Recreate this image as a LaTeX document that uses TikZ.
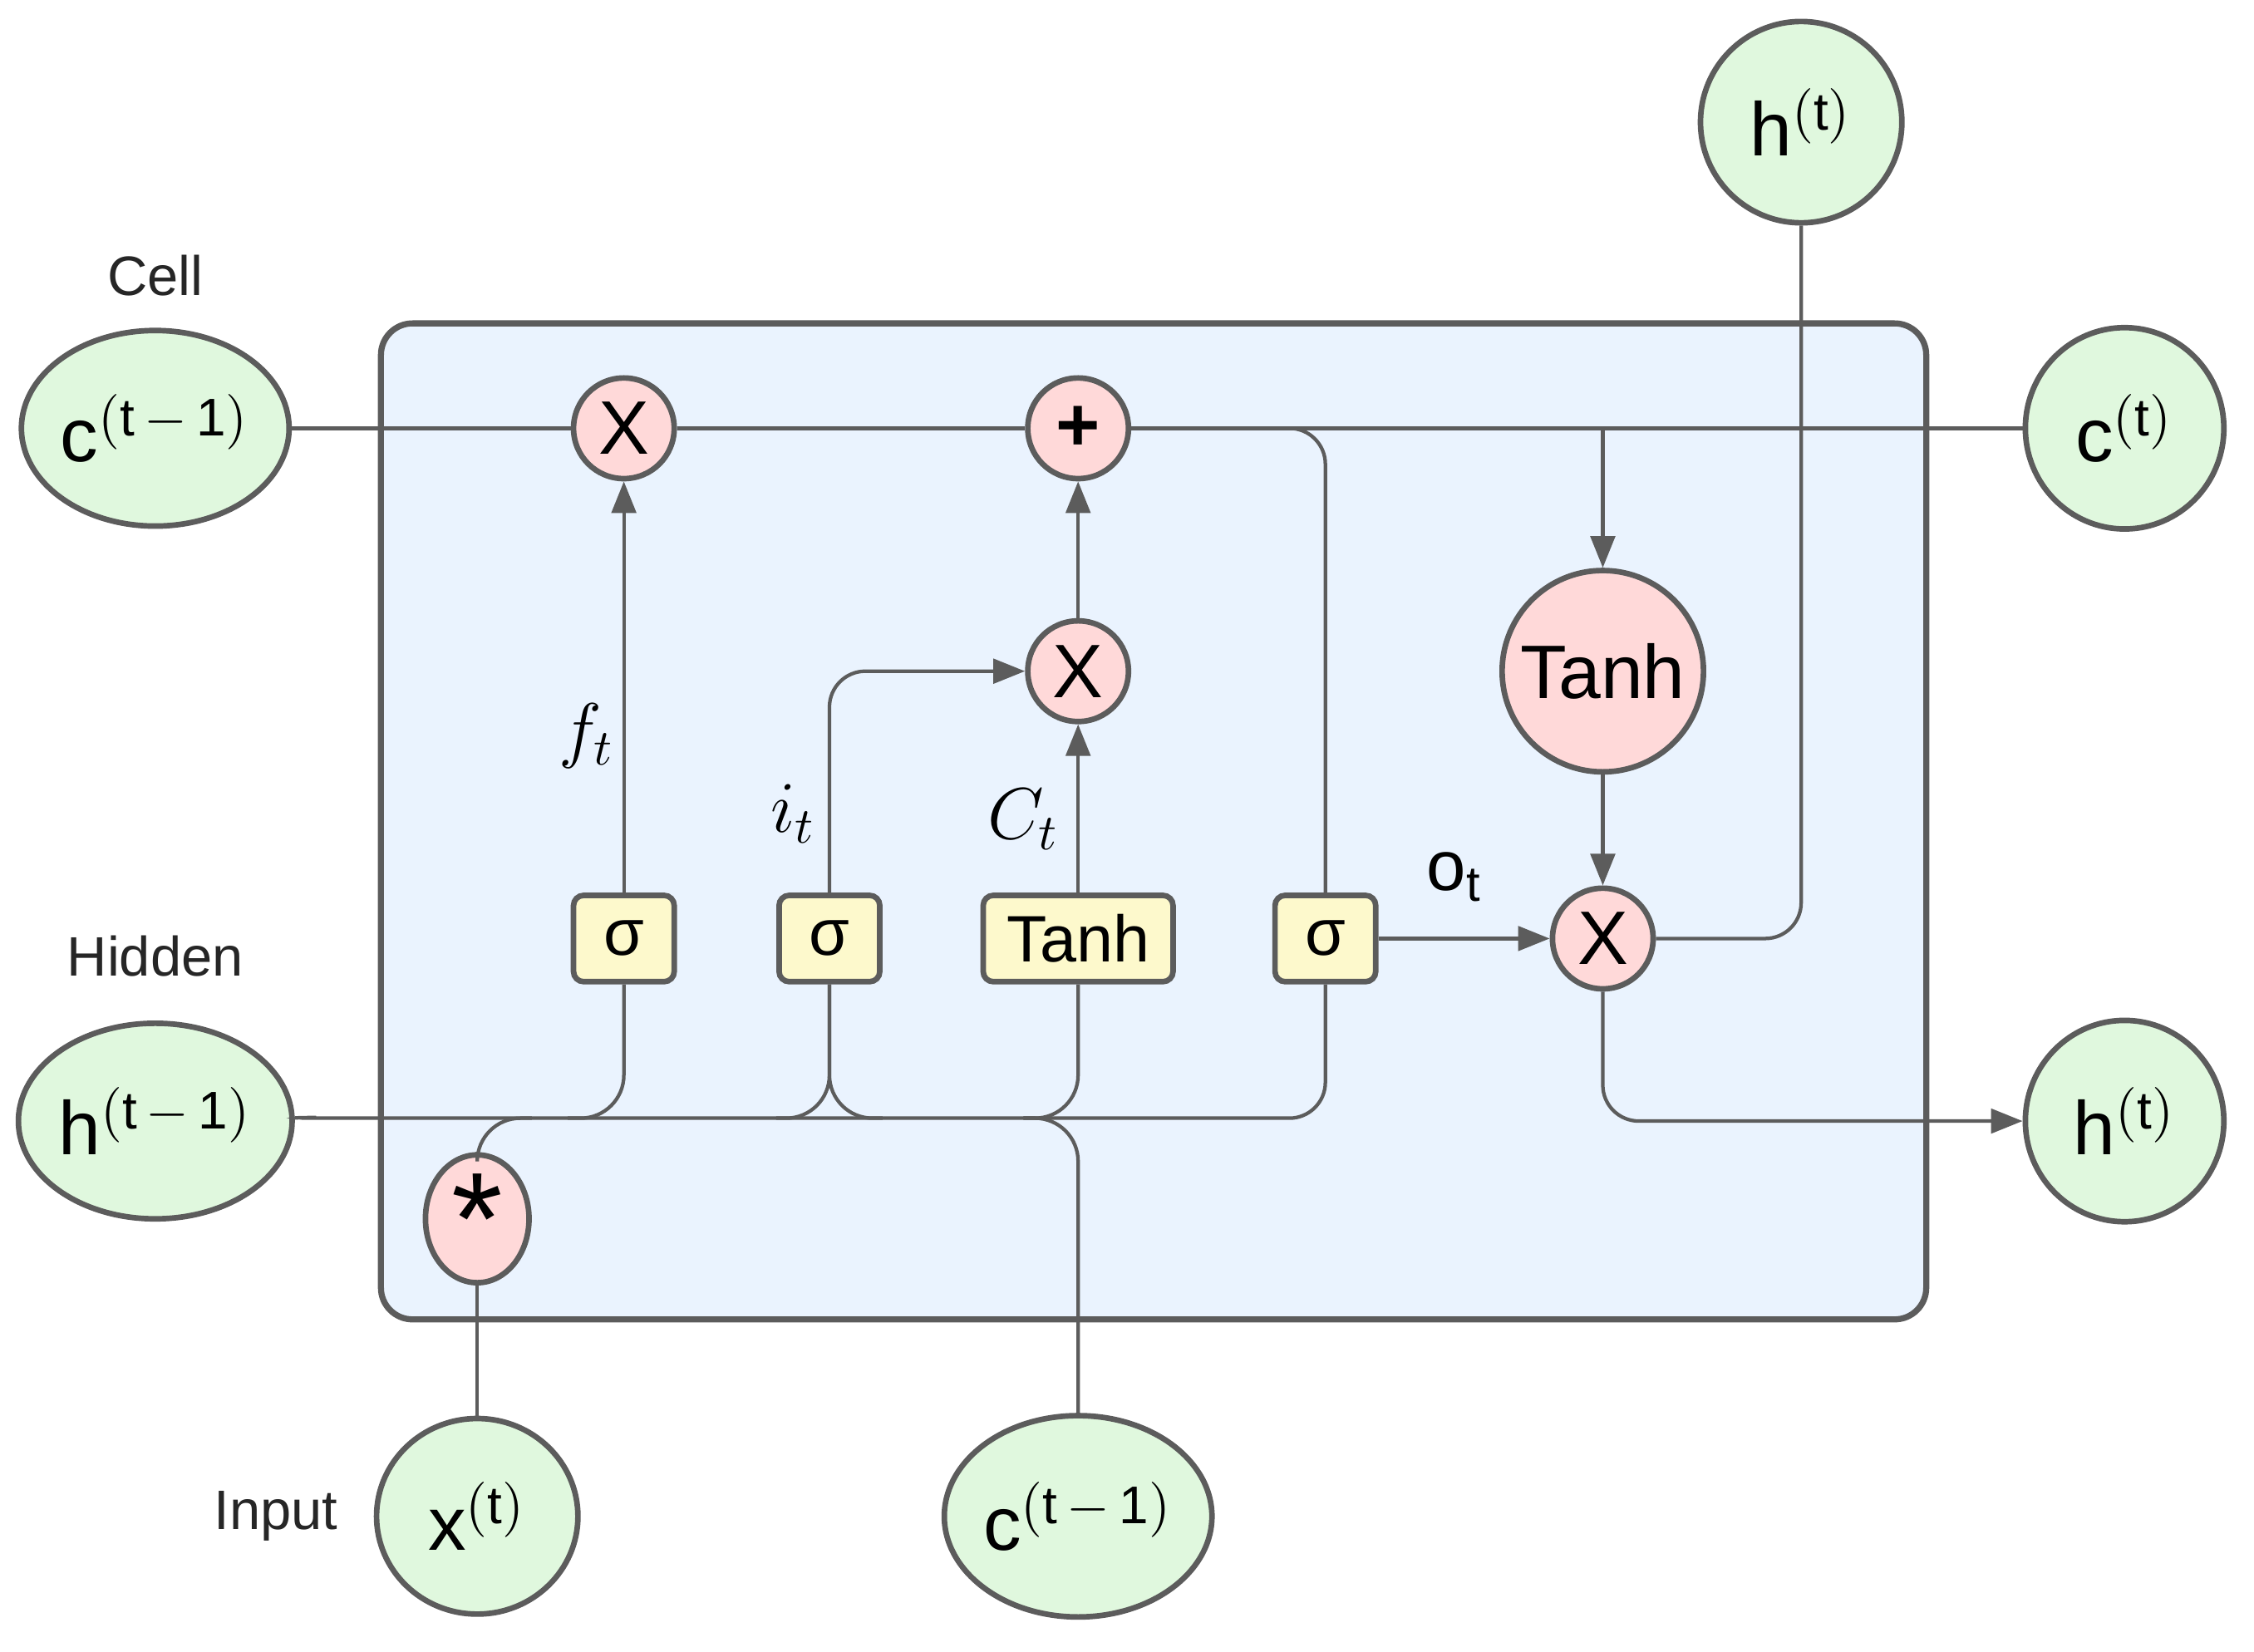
\documentclass[tikz,border=0pt]{standalone}
\usepackage{fontspec}
\setmainfont{Liberation Sans}
\usetikzlibrary{arrows.meta,shapes.geometric}
\definecolor{ln}{HTML}{5C5C5C}
\definecolor{grn}{HTML}{E0F8DE}
\definecolor{pnk}{HTML}{FFD9D9}
\definecolor{ylw}{HTML}{FDF9CC}
\definecolor{bx}{HTML}{EAF3FE}
\begin{document}
\begin{tikzpicture}[x=0.01cm,y=-0.01cm,
  io/.style={ellipse,draw=ln,fill=grn,line width=1.1pt,inner sep=0pt,font=\fontsize{15}{15}\selectfont},
  op/.style={circle,draw=ln,fill=pnk,line width=1.1pt,minimum size=0.7cm,inner sep=0pt,font=\fontsize{15}{15}\selectfont},
  gate/.style={rectangle,rounded corners=2pt,draw=ln,fill=ylw,line width=1.1pt,minimum height=0.6cm,inner sep=0pt,font=\fontsize{13}{13}\selectfont},
  lbl/.style={font=\fontsize{11}{11}\selectfont,text=black!85},
  wire/.style={draw=ln,line width=0.7pt},
  arr/.style={wire,-{Triangle[length=0.22cm,width=0.17cm]}}]
\useasboundingbox (0,0) rectangle (1568,1149);
\draw[draw=ln,fill=bx,line width=1.2pt,rounded corners=0.22cm] (265,225) rectangle (1340,918);
% io nodes
\node[io,minimum width=1.72cm,minimum height=1.36cm] (cp) at (108,298) {c$^{\mathrm{(t\,-\,1)}}$};
\node[io,minimum width=1.72cm,minimum height=1.36cm] (hp) at (108,780) {h$^{\mathrm{(t\,-\,1)}}$};
\node[io,minimum width=1.38cm,minimum height=1.4cm] (ct) at (1478,298) {c$^{\mathrm{(t)}}$};
\node[io,minimum width=1.38cm,minimum height=1.4cm] (ht) at (1478,780) {h$^{\mathrm{(t)}}$};
\node[io,minimum width=1.4cm,minimum height=1.4cm] (htop) at (1253,85) {h$^{\mathrm{(t)}}$};
\node[io,minimum width=1.4cm,minimum height=1.36cm] (xt) at (332,1055) {x$^{\mathrm{(t)}}$};
\node[io,minimum width=1.72cm,minimum height=1.4cm] (cb) at (750,1055) {c$^{\mathrm{(t\,-\,1)}}$};
% ops
\node[op] (x1) at (434,298) {X};
\node[op] (pl) at (750,298) {\textbf{+}};
\node[op] (x2) at (750,467) {X};
\node[op] (x3) at (1115,653) {X};
\node[op,minimum width=0.72cm,minimum height=0.74cm,ellipse] (st) at (332,848) {\fontsize{26}{26}\selectfont\raisebox{-1.2ex}{*}};
\node[op,ellipse,minimum width=1.4cm,minimum height=0.74cm,circle=false] (th) at (1115,467) {Tanh};
% gates
\node[gate,minimum width=0.7cm] (s1) at (434,653) {σ};
\node[gate,minimum width=0.7cm] (s2) at (577,653) {σ};
\node[gate,minimum width=1.32cm] (tb) at (750,653) {Tanh};
\node[gate,minimum width=0.7cm] (s4) at (922,653) {σ};
% labels
\node[lbl] at (108,192) {Cell};
\node[lbl] at (108,665) {Hidden};
\node[lbl] at (192,1055) {Input};
\node[font=\fontsize{14}{14}\selectfont] at (408,512) {$f_t$};
\node[font=\fontsize{14}{14}\selectfont] at (552,566) {$i_t$};
\node[font=\fontsize{14}{14}\selectfont] at (712,570) {$C_t$};
\node[font=\fontsize{14}{14}\selectfont] at (1012,610) {o$_{\mathrm{t}}$};
% cell line
\coordinate (jt) at (1115,298);
\draw[wire] (cp) -- (x1) -- (pl) -- (ct);
\draw[wire,rounded corners=0.25cm] (pl) -| (s4);
\draw[arr] (jt) -- (th);
\draw[arr] (th) -- (x3);
\draw[arr] (s1) -- (x1);
\draw[arr,rounded corners=0.25cm] (s2) |- (x2);
\draw[arr] (tb) -- (x2);
\draw[arr] (x2) -- (pl);
\draw[arr] (s4) -- (x3);
\draw[wire,rounded corners=0.25cm] (x3) -| (htop);
\draw[arr,rounded corners=0.25cm] (x3) |- (ht);
% hidden line
\coordinate (hl) at (195,778);
\draw[wire,rounded corners=0.25cm] (hp) -- (195,778) -- (922,778) -- (s4.south);
\draw[wire,rounded corners=0.3cm] (s1.south) -- (434,778) -- (395,778);
\draw[wire,rounded corners=0.3cm] (s2.south) -- (577,778) -- (540,778);
\draw[wire,rounded corners=0.3cm] (s2.south) -- (577,778) -- (614,778);
\draw[wire,rounded corners=0.3cm] (tb.south) -- (750,778) -- (712,778);
\draw[wire,rounded corners=0.3cm] (cb) -- (750,778) -- (712,778);
\draw[wire,rounded corners=0.3cm] (st) -- (332,778) -- (370,778);
\draw[wire] (st) -- (xt);
\end{tikzpicture}
\end{document}
